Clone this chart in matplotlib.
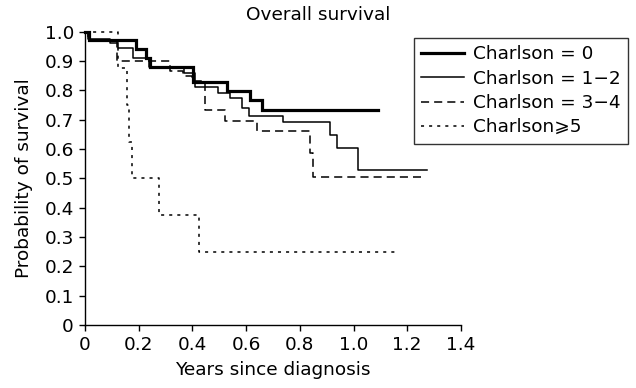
import matplotlib
matplotlib.use("Agg")
import matplotlib.pyplot as plt

plt.rcParams['font.family'] = ['DejaVu Sans']

# Kaplan-Meier step data (time in years, survival probability)
t_c0 = [0, 0.015, 0.19, 0.227, 0.242, 0.403, 0.527, 0.614, 0.658, 1.09]
s_c0 = [1.0, 0.973, 0.94, 0.91, 0.88, 0.827, 0.796, 0.768, 0.734, 0.734]

t_c12 = [0, 0.01, 0.093, 0.124, 0.18, 0.24, 0.37, 0.41, 0.495, 0.54, 0.583,
         0.61, 0.738, 0.912, 0.937, 1.017, 1.272]
s_c12 = [1.0, 0.975, 0.96, 0.945, 0.91, 0.88, 0.86, 0.813, 0.79, 0.775, 0.74,
         0.711, 0.692, 0.648, 0.603, 0.529, 0.529]

t_c34 = [0, 0.01, 0.118, 0.317, 0.365, 0.40, 0.447, 0.52, 0.64, 0.838, 0.848, 1.25]
s_c34 = [1.0, 0.967, 0.90, 0.866, 0.85, 0.833, 0.733, 0.694, 0.662, 0.587, 0.504, 0.504]

t_c5 = [0, 0.123, 0.155, 0.165, 0.175, 0.275, 0.424, 1.165]
s_c5 = [1.0, 0.875, 0.75, 0.625, 0.5, 0.375, 0.25, 0.25]

labels = ["Charlson = 0", "Charlson = 1\u22122", "Charlson = 3\u22124", "Charlson\u2a7e5"]
x_ticks = [0, 0.2, 0.4, 0.6, 0.8, 1.0, 1.2, 1.4]
x_ticklabels = ["0", "0.2", "0.4", "0.6", "0.8", "1.0", "1.2", "1.4"]
y_ticks = [0, 0.1, 0.2, 0.3, 0.4, 0.5, 0.6, 0.7, 0.8, 0.9, 1.0]
y_ticklabels = ["0", "0.1", "0.2", "0.3", "0.4", "0.5", "0.6", "0.7", "0.8", "0.9", "1.0"]

FS = 13.3

fig = plt.figure(figsize=(6.36, 3.88), dpi=100)
ax = fig.add_axes([0.1337, 0.1624, 0.591, 0.756])

ax.step(t_c0, s_c0, where='post', color='black', lw=2.3, label=labels[0],
        clip_on=False, solid_joinstyle='miter')
ax.step(t_c12, s_c12, where='post', color='black', lw=1.1, label=labels[1], clip_on=False)
ax.step(t_c34, s_c34, where='post', color='black', lw=1.1, label=labels[2],
        dashes=(5.3, 3.3), clip_on=False)
ax.step(t_c5, s_c5, where='post', color='black', lw=1.1, label=labels[3],
        dashes=(2, 3.3), clip_on=False)

ax.set_xlim(0, 1.4)
ax.set_ylim(0, 1.0)
ax.set_xticks(x_ticks)
ax.set_xticklabels(x_ticklabels)
ax.set_yticks(y_ticks)
ax.set_yticklabels(y_ticklabels)
ax.spines['top'].set_visible(False)
ax.spines['right'].set_visible(False)
ax.spines['left'].set_linewidth(1.0)
ax.spines['bottom'].set_linewidth(1.0)
ax.tick_params(direction='out', length=4, width=1.0, labelsize=FS, pad=4)

ax.set_xlabel("Years since diagnosis", fontsize=FS, labelpad=5)
ax.set_ylabel("Probability of survival", fontsize=FS, labelpad=8)
fig.text(0.50, 0.962, "Overall survival", ha='center', va='center', fontsize=FS)

leg = ax.legend(loc='upper left', bbox_to_anchor=(0.651, 0.902), bbox_transform=fig.transFigure,
                fontsize=FS, frameon=True, fancybox=False, edgecolor='black',
                handlelength=2.3, handletextpad=0.5, labelspacing=0.34,
                borderpad=0.4, borderaxespad=0)
leg.get_frame().set_linewidth(1.0)

fig.savefig("out.png", dpi=100)
